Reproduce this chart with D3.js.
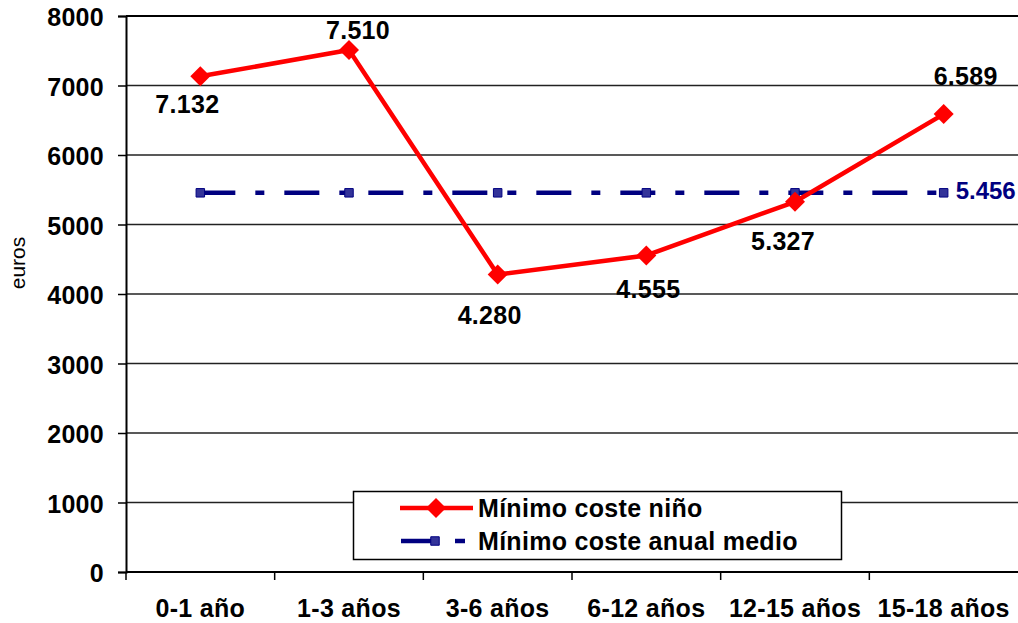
<!DOCTYPE html>
<html><head><meta charset="utf-8">
<script src="https://cdn.jsdelivr.net/npm/d3@7"></script>
<style>
html,body{margin:0;padding:0;background:#fff;}
svg{display:block;font-family:"Liberation Sans",Arial,sans-serif;}
.b{font-weight:bold;letter-spacing:0.3px;}
</style></head>
<body>
<svg id="c" width="1018" height="623"></svg>
<script>
// ---- data ----
const categories = ["0-1 año","1-3 años","3-6 años","6-12 años","12-15 años","15-18 años"];
const costeNino = [7132, 7510, 4280, 4555, 5327, 6589];
const costeMedio = [5456, 5456, 5456, 5456, 5456, 5456];
const costeNinoLabels = ["7.132","7.510","4.280","4.555","5.327","6.589"];
const costeMedioLabel = "5.456";
const yTicks = [0,1000,2000,3000,4000,5000,6000,7000,8000];
const seriesNames = ["Mínimo coste niño","Mínimo coste anual medio"];

// ---- layout ----
const L = 126, R = 1018, T = 16, B = 572;
const FS = 25;
const labelOffsets = [[-13,37],[9,-11],[-8,49],[2,43],[-12,48],[22,-29]];

const svg = d3.select("#c");
const x = d3.scaleBand().domain(categories).range([L, R]).paddingInner(0).paddingOuter(0);
const y = d3.scaleLinear().domain([0, 8000]).range([B, T]);
const cx = d => x(d) + x.bandwidth()/2;

// gridlines
svg.append("g").selectAll("line").data(yTicks.filter(v => v>0)).join("line")
  .attr("x1", L).attr("x2", R).attr("y1", d=>y(d)).attr("y2", d=>y(d))
  .attr("stroke", d => d===8000 ? "#000" : "#222").attr("stroke-width", d => d===8000 ? 2 : 1.3);

// y axis
const yAxis = d3.axisLeft(y).tickValues(yTicks).tickSize(8).tickPadding(14).tickFormat(d3.format("d"));
const gy = svg.append("g").attr("transform", `translate(${L},0)`).call(yAxis);
gy.select(".domain").attr("stroke","#000").attr("stroke-width",2);
gy.selectAll(".tick line").attr("stroke","#000").attr("stroke-width",1.5);
gy.selectAll(".tick text").attr("class","b").attr("font-size",FS).attr("fill","#000")
  .attr("dy","0.38em").attr("font-family","'Liberation Sans',Arial,sans-serif");

// x axis
const xTickVals = categories.map(c => x(c));
const gx = svg.append("g").attr("transform", `translate(0,${B})`);
gx.append("line").attr("x1", L).attr("x2", R).attr("y1",0).attr("y2",0).attr("stroke","#000").attr("stroke-width",2.2);
gx.selectAll("line.tk").data(xTickVals).join("line").attr("class","tk")
  .attr("x1", d=>d).attr("x2", d=>d).attr("y1",0).attr("y2",8).attr("stroke","#000").attr("stroke-width",1.5);
gx.selectAll("text").data(categories).join("text").attr("class","b")
  .attr("x", d=>cx(d)).attr("y", 45).attr("text-anchor","middle")
  .attr("font-size",FS).attr("fill","#000").text(d=>d);

// y axis title
svg.append("text").attr("transform","translate(25,263) rotate(-90)").attr("text-anchor","middle")
  .attr("font-size",21).attr("fill","#000").text("euros");

// average line (dash-dot)
const lineGen = d3.line().x((d,i)=>cx(categories[i])).y(d=>y(d));
svg.append("path").datum(costeMedio).attr("d", lineGen).attr("fill","none")
  .attr("stroke","#000080").attr("stroke-width",4.5).attr("stroke-dasharray","35,20,9,20");
const sq = d3.symbol().type(d3.symbolSquare).size(72);
svg.append("g").selectAll("path").data(costeMedio).join("path")
  .attr("d", sq).attr("transform",(d,i)=>`translate(${cx(categories[i])},${y(d)})`)
  .attr("fill","#333399").attr("stroke","#000080").attr("stroke-width",1);

// red line
svg.append("path").datum(costeNino).attr("d", lineGen).attr("fill","none")
  .attr("stroke","#ff0000").attr("stroke-width",4.5).attr("stroke-linejoin","round");
const dia = d3.symbol().type(d3.symbolSquare).size(200);
svg.append("g").selectAll("path").data(costeNino).join("path")
  .attr("d", dia).attr("transform",(d,i)=>`translate(${cx(categories[i])},${y(d)}) rotate(45)`)
  .attr("fill","#ff0000");

// data labels
svg.append("g").selectAll("text").data(costeNino).join("text").attr("class","b")
  .attr("x",(d,i)=>cx(categories[i]) + labelOffsets[i][0])
  .attr("y",(d,i)=>y(d) + labelOffsets[i][1])
  .attr("text-anchor","middle").attr("font-size",FS).attr("fill","#000")
  .text((d,i)=>costeNinoLabels[i]);
const lastI = costeMedio.length-1;
svg.append("text").attr("x", cx(categories[lastI]) + 12).attr("y", y(costeMedio[lastI]) + 6)
  .attr("font-size",24).attr("font-weight","bold").attr("fill","#000080").text(costeMedioLabel);

// legend
const lg = svg.append("g");
lg.append("rect").attr("x",353.5).attr("y",491.5).attr("width",488).attr("height",68)
  .attr("fill","#fff").attr("stroke","#000").attr("stroke-width",1.5);
lg.append("line").attr("x1",400).attr("x2",473).attr("y1",508).attr("y2",508)
  .attr("stroke","#ff0000").attr("stroke-width",4.5);
lg.append("path").attr("d",dia).attr("transform","translate(436,508) rotate(45)").attr("fill","#ff0000");
lg.append("line").attr("x1",401).attr("x2",432).attr("y1",541).attr("y2",541)
  .attr("stroke","#000080").attr("stroke-width",4.5);
lg.append("line").attr("x1",455).attr("x2",465).attr("y1",541).attr("y2",541)
  .attr("stroke","#000080").attr("stroke-width",4.5);
lg.append("path").attr("d",sq).attr("transform","translate(435,541)")
  .attr("fill","#333399").attr("stroke","#000080").attr("stroke-width",1);
lg.selectAll("text").data(seriesNames).join("text").attr("class","b")
  .attr("x",478).attr("y",(d,i)=>517 + i*33)
  .attr("font-size",FS).attr("fill","#000").text(d=>d);
</script>
</body></html>
